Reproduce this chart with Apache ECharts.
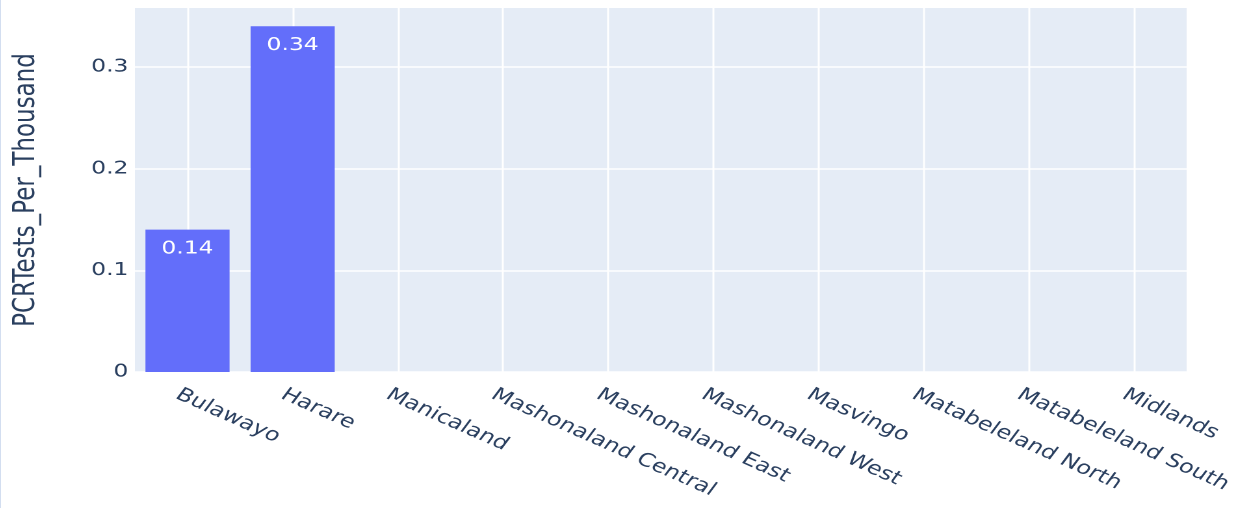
<!DOCTYPE html>
<html>
<head>
<meta charset="utf-8">
<script src="https://cdn.jsdelivr.net/npm/echarts@6/dist/echarts.min.js"></script>
<style>
  html, body { margin: 0; padding: 0; background: #fff; overflow: hidden; }
  #wrap { position: absolute; left: 0; top: 0; width: 1250px; height: 508px; overflow: hidden; border-left: 1px solid #d3def0; box-sizing: border-box; }
  #chart { position: absolute; left: 0; top: 0; width: 962px; height: 508px; transform: scaleX(1.3); transform-origin: 0 0; }
</style>
</head>
<body>
<div id="wrap"><div id="chart"></div></div>
<script>
const categories = ['Bulawayo', 'Harare', 'Manicaland', 'Mashonaland Central', 'Mashonaland East',
  'Mashonaland West', 'Masvingo', 'Matabeleland North', 'Matabeleland South', 'Midlands'];
const pcrTestsPerThousand = [0.14, 0.34, 0, 0, 0, 0, 0, 0, 0, 0];
const yAxisTitle = 'PCRTests_Per_Thousand';
const yMax = 0.3579;
const yInterval = 0.1;

// helper axis: points at category boundaries and centres, used for vertical gridlines at centres
const helperPoints = [];
for (let i = 0; i <= categories.length * 2; i++) helperPoints.push(String(i));

const FONT = '"DejaVu Sans", Verdana, sans-serif';
const TXT = '#2a3f5f';

const chart = echarts.init(document.getElementById('chart'), null, { renderer: 'canvas', devicePixelRatio: 2 });
chart.setOption({
  animation: false,
  backgroundColor: '#ffffff',
  grid: {
    left: 102, right: 50, top: 8, bottom: 136,
    show: true, backgroundColor: '#E5ECF6', borderWidth: 0
  },
  xAxis: [
    {
      type: 'category',
      data: categories,
      axisLine: { show: false },
      axisTick: { show: false },
      splitLine: { show: false },
      axisLabel: {
        rotate: -30,
        interval: 0,
        margin: 8,
        verticalAlign: 'top',
        padding: [6, 0, 0, 0],
        fontFamily: FONT,
        fontSize: 18.5,
        color: TXT
      }
    },
    {
      type: 'category',
      data: helperPoints,
      boundaryGap: false,
      position: 'bottom',
      axisLine: { show: false },
      axisTick: { show: false },
      axisLabel: { show: false },
      splitLine: {
        show: true,
        interval: function (index) { return index % 2 === 1; },
        lineStyle: { color: '#ffffff', width: 1.5 }
      }
    }
  ],
  yAxis: {
    type: 'value',
    min: 0,
    max: yMax,
    interval: yInterval,
    name: yAxisTitle,
    nameLocation: 'middle',
    nameGap: 72,
    nameTextStyle: { fontFamily: FONT, fontSize: 23, color: TXT },
    axisLine: { show: false },
    axisTick: { show: false },
    axisLabel: {
      margin: 5,
      showMaxLabel: false,
      fontFamily: FONT,
      fontSize: 18,
      color: TXT,
      formatter: function (v) { return String(Math.round(v * 10) / 10); }
    },
    splitLine: {
      show: true,
      showMaxLine: false,
      lineStyle: { color: '#ffffff', width: 1.5 }
    }
  },
  series: [{
    type: 'bar',
    data: pcrTestsPerThousand,
    xAxisIndex: 0,
    barCategoryGap: '20%',
    itemStyle: { color: '#636EFA' },
    label: {
      show: true,
      position: 'insideTop',
      distance: 10,
      fontFamily: FONT,
      fontSize: 18,
      color: '#ffffff',
      formatter: function (p) { return p.value > 0 ? String(p.value) : ''; }
    }
  }]
});
</script>
</body>
</html>
